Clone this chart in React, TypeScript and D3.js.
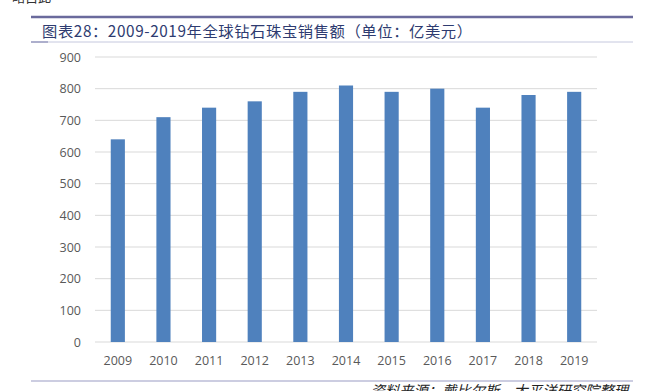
import React from "react";
import * as d3 from "d3";

const years = ["2009","2010","2011","2012","2013","2014","2015","2016","2017","2018","2019"];
const sales = [640, 710, 740, 760, 790, 810, 790, 800, 740, 780, 790];
const yTicks = [0,100,200,300,400,500,600,700,800,900];
const title = "图表28：2009-2019年全球钻石珠宝销售额（单位：亿美元）";
const source = "资料来源：戴比尔斯，太平洋研究院整理";

export default function App() {
  const W = 647, H = 391;
  const left = 95, right = 597, top = 57, bottom = 342;
  const x = d3.scaleBand().domain(years).range([left, right]).paddingInner(0.69).paddingOuter(0.345);
  const y = d3.scaleLinear().domain([0, 900]).range([bottom, top]);
  const font = "'Open Sans', 'Noto Sans', sans-serif";
  return (
    <svg width={W} height={H} style={{ position: "absolute", left: 0, top: 0, background: "#fff" }}>
      <text x={12} y={2} fontSize={13} fill="#333" fontFamily="'Noto Sans CJK SC', sans-serif">略自此</text>
      <line x1={31} x2={633} y1={17} y2={17} stroke="#6a6a9c" strokeWidth={2.5} />
      <text x={42} y={36.5} fontSize={15.3} letterSpacing={0.6} fill="#2e3b70" fontFamily="'Noto Sans CJK SC', sans-serif">{title}</text>
      <line x1={31} x2={633} y1={42} y2={42} stroke="#c5c8de" strokeWidth={1} />
      <line x1={31} x2={48} y1={42} y2={42} stroke="#8a8cb5" strokeWidth={1.2} />
      {yTicks.map(t => (
        <g key={t}>
          <line x1={left} x2={right} y1={y(t)} y2={y(t)} stroke="#d9d9d9" strokeWidth={1} />
          <text x={81} y={y(t) + 4.5} fontSize={12.5} fill="#595959" textAnchor="end" fontFamily={font}>{t}</text>
        </g>
      ))}
      {years.map((yr, i) => (
        <rect key={yr} x={x(yr)} y={y(sales[i])} width={x.bandwidth()} height={bottom - y(sales[i])} fill="#4f81bd" />
      ))}
      {years.map(yr => (
        <text key={yr} x={(x(yr) as number) + x.bandwidth() / 2} y={365} fontSize={12.5} fill="#595959" textAnchor="middle" fontFamily={font}>{yr}</text>
      ))}
      <line x1={31} x2={633} y1={381} y2={381} stroke="#9a9cc4" strokeWidth={1.2} />
      <text x={628} y={396} fontSize={14.3} fill="#222" textAnchor="end" fontStyle="italic" fontFamily="'Noto Sans CJK SC', serif">{source}</text>
    </svg>
  );
}
